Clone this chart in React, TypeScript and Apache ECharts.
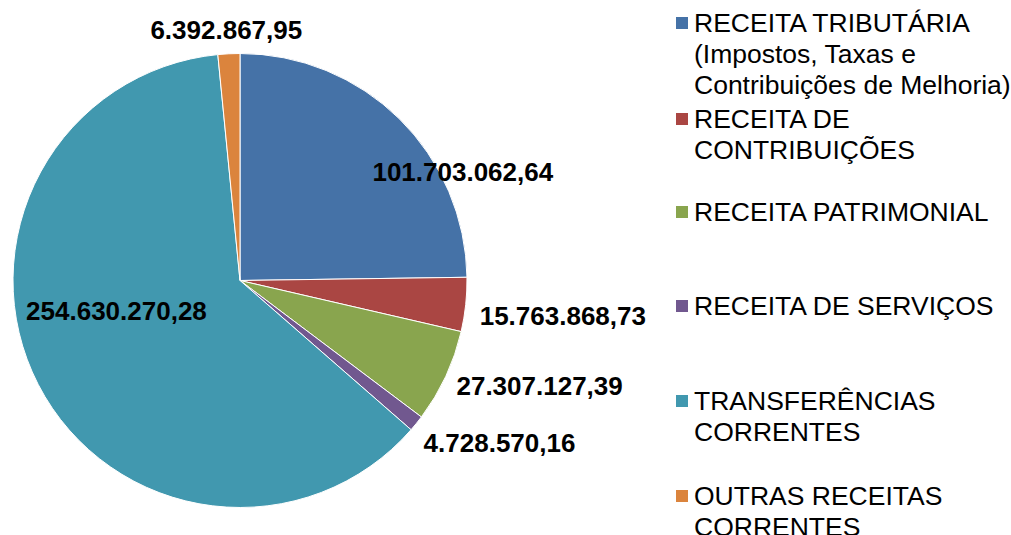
import React, { useEffect, useRef } from "react";
import * as echarts from "echarts";

const categories: string[] = [
  "RECEITA TRIBUTÁRIA\n(Impostos, Taxas e\nContribuições de Melhoria)",
  "RECEITA DE\nCONTRIBUIÇÕES",
  "RECEITA PATRIMONIAL",
  "RECEITA DE SERVIÇOS",
  "TRANSFERÊNCIAS\nCORRENTES",
  "OUTRAS RECEITAS\nCORRENTES",
];

const values: number[] = [
  101703062.64,
  15763868.73,
  27307127.39,
  4728570.16,
  254630270.28,
  6392867.95,
];

const colors: string[] = ["#4572A7", "#AA4643", "#89A54E", "#71588F", "#4198AF", "#DB843D"];

// label offsets (px) relative to the default inside position
const labelOffsets: number[][] = [
  [141, -26],
  [207, 23],
  [194, 56],
  [169, 89],
  [-20, -23],
  [-8, -134],
];

// vertical centre of first line of each legend entry
const legendFirstLine: number[] = [23, 119, 212, 306, 401, 496];

const LINE_H = 31;
const FONT = "'Liberation Sans', Arial, sans-serif";

function fmt(v: number): string {
  const [i, d] = v.toFixed(2).split(".");
  return i.replace(/\B(?=(\d{3})+(?!\d))/g, ".") + "," + d;
}

export default function App() {
  const ref = useRef<HTMLDivElement>(null);
  useEffect(() => {
    if (!ref.current) return;
    const chart = echarts.init(ref.current, undefined, { renderer: "svg" });
    const legends = categories.map((name, i) => {
      const n = name.split("\n").length;
      return {
        orient: "vertical",
        left: 674,
        top: legendFirstLine[i] - ((2 * n - 1) * LINE_H) / 2,
        padding: 0,
        icon: "rect",
        itemWidth: 14,
        itemHeight: 14,
        data: [name],
        formatter: (nm: string) => "\n".repeat(nm.split("\n").length - 1) + nm,
        textStyle: {
          fontSize: 26.5,
          fontFamily: FONT,
          color: "#000",
          lineHeight: LINE_H,
        },
      };
    });
    chart.setOption({
      animation: false,
      backgroundColor: "#ffffff",
      color: colors,
      legend: legends,
      series: [
        {
          type: "pie",
          center: [240, 280.5],
          radius: [0, 227],
          startAngle: 90,
          clockwise: true,
          avoidLabelOverlap: false,
          itemStyle: { borderColor: "#ffffff", borderWidth: 1 },
          labelLine: { show: false },
          emphasis: { disabled: true },
          data: categories.map((name, i) => ({
            name,
            value: values[i],
            label: {
              show: true,
              position: "inside",
              offset: labelOffsets[i],
              formatter: () => fmt(values[i]),
              fontSize: 26,
              fontWeight: "bold",
              fontFamily: FONT,
              color: "#000",
            },
          })),
        },
      ],
    });
    return () => chart.dispose();
  }, []);
  return (
    <div
      ref={ref}
      style={{ position: "fixed", left: 0, top: 0, width: 1011, height: 535, background: "#fff" }}
    />
  );
}
